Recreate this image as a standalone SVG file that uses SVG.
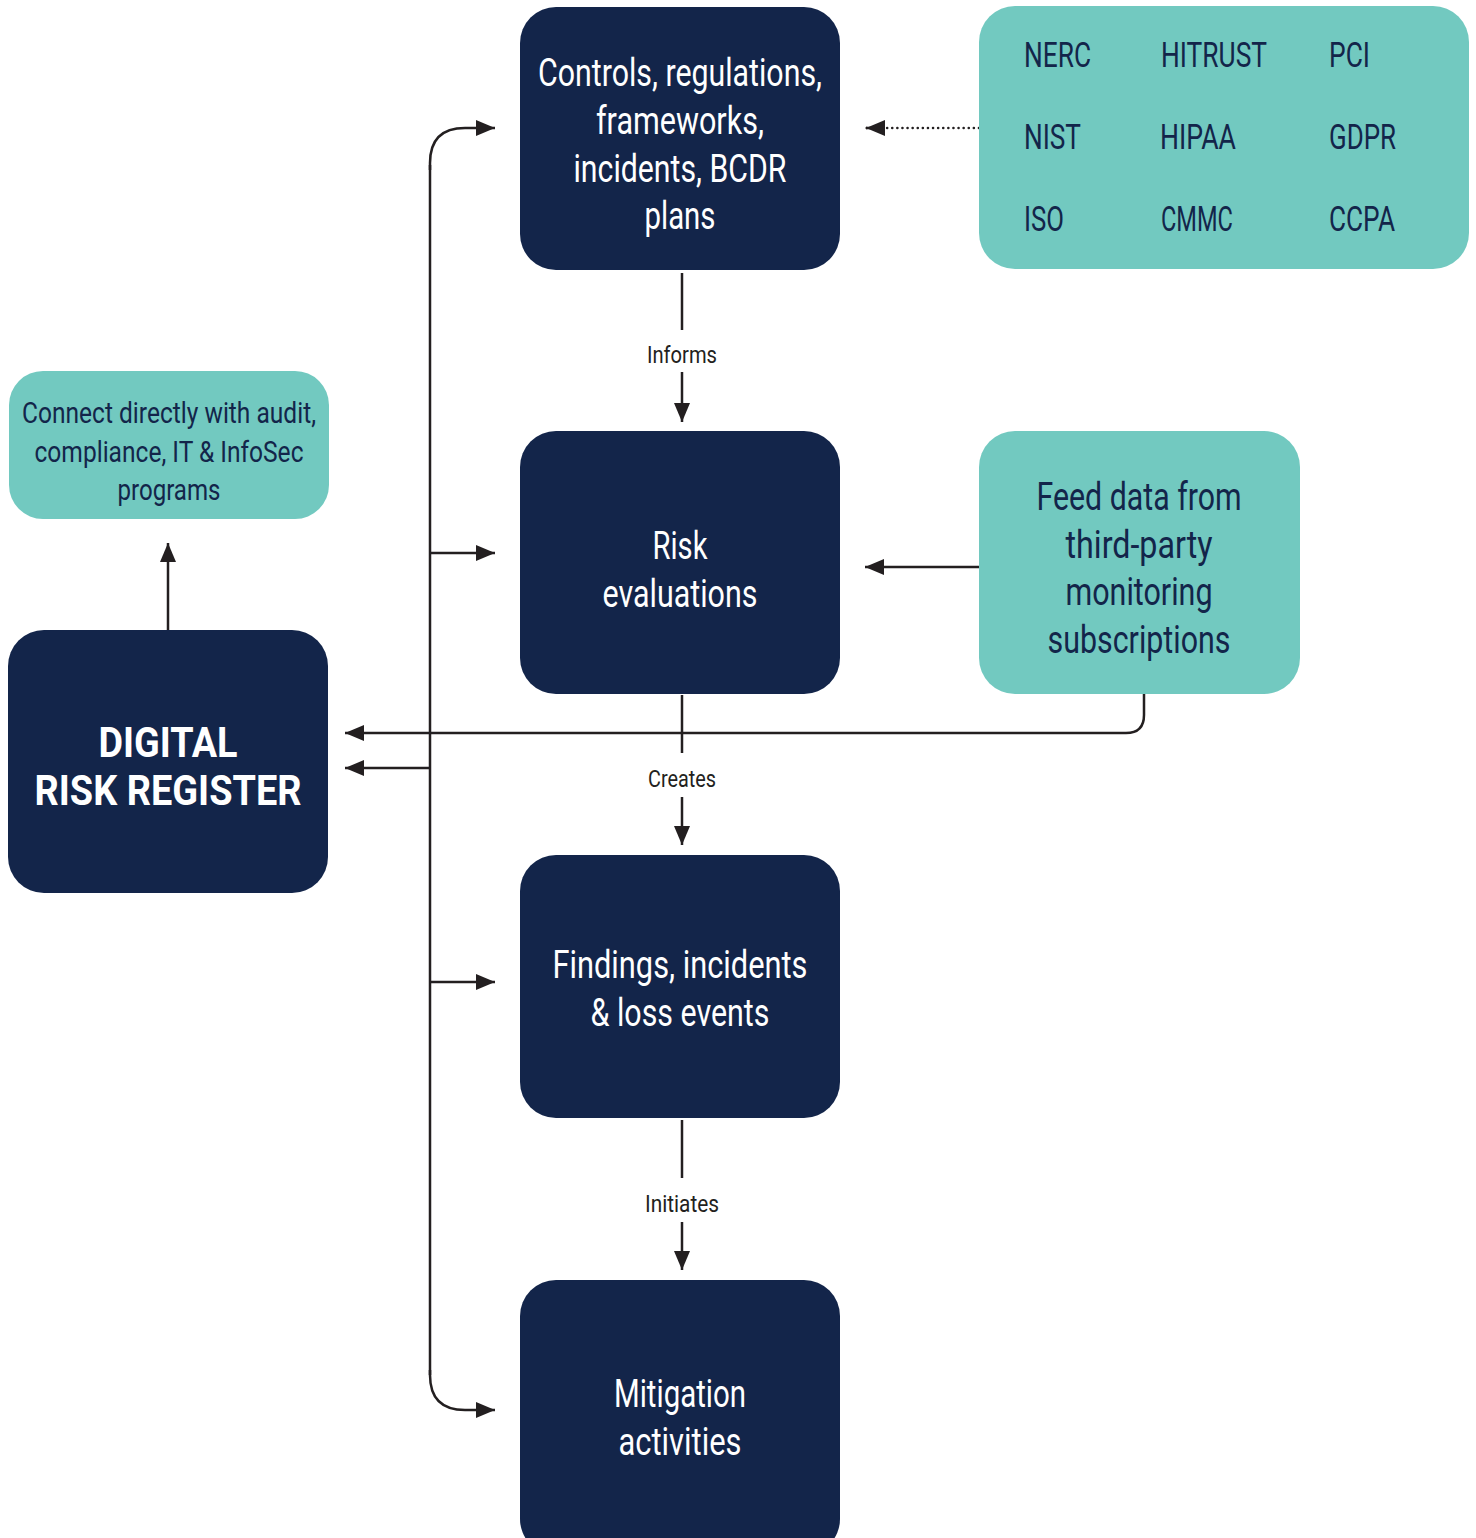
<svg xmlns="http://www.w3.org/2000/svg" width="1476" height="1538" viewBox="0 0 1476 1538">
<defs>
<style>
.navy{fill:#13254a}
.teal{fill:#72c9c0}
.wt{fill:#ffffff;font-family:Roboto,"Liberation Sans",sans-serif;font-size:38px;text-anchor:middle}
.dt{fill:#13254a;font-family:Roboto,"Liberation Sans",sans-serif;text-anchor:middle}
.fw{fill:#13254a;font-family:Roboto,"Liberation Sans",sans-serif;font-size:35px}
.lb{fill:#231f20;font-family:Roboto,"Liberation Sans",sans-serif;font-size:23px;text-anchor:middle}
.ln{fill:none;stroke:#231f20;stroke-width:2.5}
</style>
<marker id="ah" markerUnits="userSpaceOnUse" markerWidth="20" markerHeight="16" refX="19" refY="8" orient="auto">
<path d="M0,0 L19,8 L0,16 Z" fill="#231f20"/>
</marker>
</defs>
<rect width="1476" height="1538" fill="#ffffff"/>

<g id="connectors">
<path class="ln" d="M430,170 V163 Q430,128 465,128 H495" marker-end="url(#ah)"/>
<path class="ln" d="M430,165 V1375"/>
<path class="ln" d="M430,1370 V1375 Q430,1410 465,1410 H495" marker-end="url(#ah)"/>
<path class="ln" d="M430,553 H495" marker-end="url(#ah)"/>
<path class="ln" d="M430,982 H495" marker-end="url(#ah)"/>
<path class="ln" d="M430,768 H345" marker-end="url(#ah)"/>
<path class="ln" d="M1144,694 V715 Q1144,733 1126,733 H345" marker-end="url(#ah)"/>
<path class="ln" d="M168,630 V543" marker-end="url(#ah)"/>
<path class="ln" d="M979,128 H866" stroke-dasharray="0.1 5" stroke-linecap="round" stroke-width="3"/>
<path d="M866,128 H885" class="ln" marker-end="url(#ah)" transform="rotate(180 875.5 128)"/>
<path class="ln" d="M979,567 H865" marker-end="url(#ah)"/>
<path class="ln" d="M682,273 V330"/>
<path class="ln" d="M682,372 V422" marker-end="url(#ah)"/>
<text class="lb" x="682" y="363" textLength="70" lengthAdjust="spacingAndGlyphs">Informs</text>
<path class="ln" d="M682,695 V753"/>
<path class="ln" d="M682,797 V845" marker-end="url(#ah)"/>
<text class="lb" x="682" y="787" textLength="68" lengthAdjust="spacingAndGlyphs">Creates</text>
<path class="ln" d="M682,1120 V1178"/>
<path class="ln" d="M682,1222 V1270" marker-end="url(#ah)"/>
<text class="lb" x="682" y="1212" textLength="74" lengthAdjust="spacingAndGlyphs">Initiates</text>
</g>

<g id="controls">
<rect class="navy" x="520" y="7" width="320" height="263" rx="36"/>
<text class="wt" x="680" y="86" textLength="284" lengthAdjust="spacingAndGlyphs">Controls, regulations,</text>
<text class="wt" x="680" y="134" textLength="168" lengthAdjust="spacingAndGlyphs">frameworks,</text>
<text class="wt" x="680" y="182" textLength="213" lengthAdjust="spacingAndGlyphs">incidents, BCDR</text>
<text class="wt" x="680" y="229" textLength="71" lengthAdjust="spacingAndGlyphs">plans</text>
</g>

<g id="frameworks">
<rect class="teal" x="979" y="6" width="490" height="263" rx="36"/>
<text class="fw" x="1024" y="67" textLength="67" lengthAdjust="spacingAndGlyphs">NERC</text>
<text class="fw" x="1161" y="67" textLength="106" lengthAdjust="spacingAndGlyphs">HITRUST</text>
<text class="fw" x="1329" y="67" textLength="41" lengthAdjust="spacingAndGlyphs">PCI</text>
<text class="fw" x="1024" y="149" textLength="57" lengthAdjust="spacingAndGlyphs">NIST</text>
<text class="fw" x="1160" y="149" textLength="76" lengthAdjust="spacingAndGlyphs">HIPAA</text>
<text class="fw" x="1329" y="149" textLength="67" lengthAdjust="spacingAndGlyphs">GDPR</text>
<text class="fw" x="1024" y="231" textLength="40" lengthAdjust="spacingAndGlyphs">ISO</text>
<text class="fw" x="1161" y="231" textLength="72" lengthAdjust="spacingAndGlyphs">CMMC</text>
<text class="fw" x="1329" y="231" textLength="66" lengthAdjust="spacingAndGlyphs">CCPA</text>
</g>

<g id="risk-evaluations">
<rect class="navy" x="520" y="431" width="320" height="263" rx="36"/>
<text class="wt" x="680" y="559" textLength="55" lengthAdjust="spacingAndGlyphs">Risk</text>
<text class="wt" x="680" y="607" textLength="155" lengthAdjust="spacingAndGlyphs">evaluations</text>
</g>

<g id="feed-data">
<rect class="teal" x="979" y="431" width="321" height="263" rx="36"/>
<text class="dt" style="font-size:38px" x="1139" y="510" textLength="205" lengthAdjust="spacingAndGlyphs">Feed data from</text>
<text class="dt" style="font-size:38px" x="1139" y="558" textLength="147" lengthAdjust="spacingAndGlyphs">third-party</text>
<text class="dt" style="font-size:38px" x="1139" y="605" textLength="147" lengthAdjust="spacingAndGlyphs">monitoring</text>
<text class="dt" style="font-size:38px" x="1139" y="653" textLength="183" lengthAdjust="spacingAndGlyphs">subscriptions</text>
</g>

<g id="findings">
<rect class="navy" x="520" y="855" width="320" height="263" rx="36"/>
<text class="wt" x="680" y="978" textLength="255" lengthAdjust="spacingAndGlyphs">Findings, incidents</text>
<text class="wt" x="680" y="1026" textLength="179" lengthAdjust="spacingAndGlyphs">&amp; loss events</text>
</g>

<g id="mitigation">
<rect class="navy" x="520" y="1280" width="320" height="275" rx="36"/>
<text class="wt" x="680" y="1407" textLength="132" lengthAdjust="spacingAndGlyphs">Mitigation</text>
<text class="wt" x="680" y="1455" textLength="123" lengthAdjust="spacingAndGlyphs">activities</text>
</g>

<g id="connect">
<rect class="teal" x="9" y="371" width="320" height="148" rx="34"/>
<text class="dt" style="font-size:29px" x="169" y="423" textLength="294" lengthAdjust="spacingAndGlyphs">Connect directly with audit,</text>
<text class="dt" style="font-size:29px" x="169" y="462" textLength="269" lengthAdjust="spacingAndGlyphs">compliance, IT &amp; InfoSec</text>
<text class="dt" style="font-size:29px" x="169" y="500" textLength="103" lengthAdjust="spacingAndGlyphs">programs</text>
</g>

<g id="digital-risk-register">
<rect class="navy" x="8" y="630" width="320" height="263" rx="36"/>
<text class="wt" style="font-size:42px;font-weight:bold" x="168" y="757" textLength="139" lengthAdjust="spacingAndGlyphs">DIGITAL</text>
<text class="wt" style="font-size:42px;font-weight:bold" x="168" y="805" textLength="267" lengthAdjust="spacingAndGlyphs">RISK REGISTER</text>
</g>
</svg>
